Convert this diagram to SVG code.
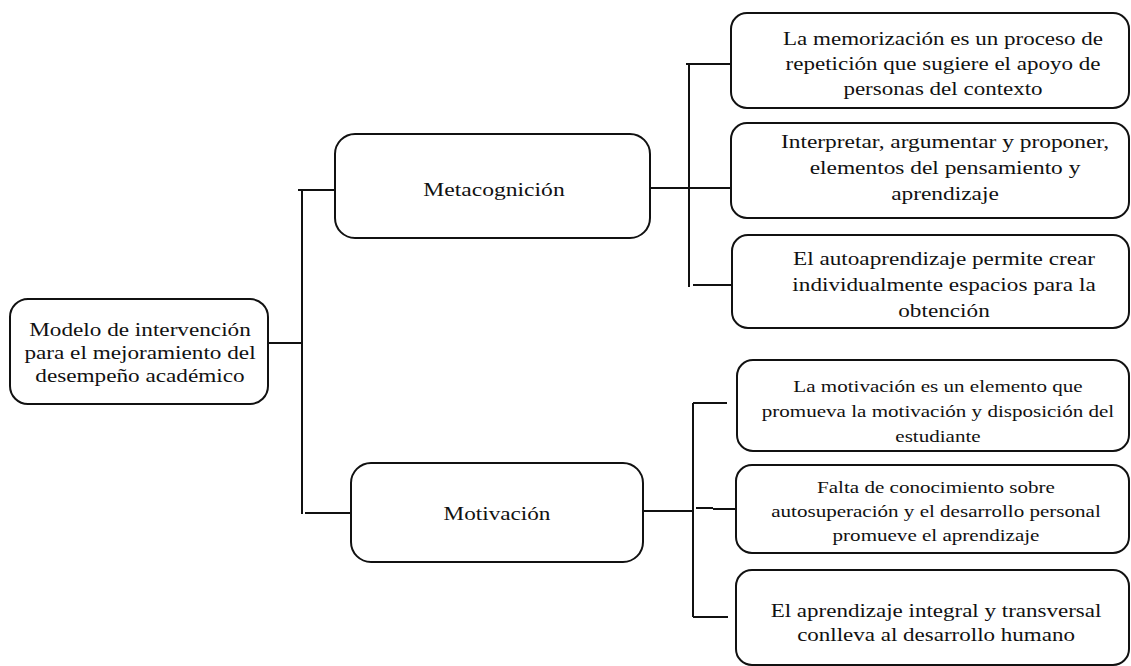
<svg xmlns="http://www.w3.org/2000/svg" width="1131" height="666" viewBox="0 0 1131 666">
<style>
.box{fill:#fff;stroke:#111;stroke-width:2}
.ln{stroke:#111;stroke-width:2;fill:none}
text{font-family:"Liberation Serif","Times New Roman",serif;font-size:19.5px;fill:#111;text-anchor:middle}
.sm{font-size:17.7px}
</style>
<rect width="1131" height="666" fill="#fff"/>
<g id="connectors">
<path class="ln" d="M268 343H302M302 190V514M298 190H335M305 513H351"/>
<path class="ln" d="M649 188H731M689 64V287M686 64H731M693 285H735"/>
<path class="ln" d="M643 511H693M693 403V617M693 403H727M713 509H736M693 617H728"/>
<path class="ln" d="M696 508H713" stroke-width="3"/>
</g>
<g id="root">
<rect class="box" x="10" y="299" width="258" height="105" rx="18"/>
<g transform="translate(140 0) scale(1.19 1)">
<text x="0" y="336">Modelo de intervención</text>
<text x="0" y="359">para el mejoramiento del</text>
<text x="0" y="382">desempeño académico</text>
</g>
</g>
<g id="metacognicion">
<rect class="box" x="335" y="134" width="315" height="104" rx="20"/>
<g transform="translate(494 0) scale(1.21 1)"><text x="0" y="196">Metacognición</text></g>
</g>
<g id="motivacion">
<rect class="box" x="351" y="463" width="292" height="99" rx="20"/>
<g transform="translate(497 0) scale(1.19 1)"><text x="0" y="520">Motivación</text></g>
</g>
<g id="m1">
<rect class="box" x="731" y="13" width="398" height="95" rx="16"/>
<g transform="translate(943 0) scale(1.18 1)">
<text x="0" y="45">La memorización es un proceso de</text>
<text x="0" y="70">repetición que sugiere el apoyo de</text>
<text x="0" y="95">personas del contexto</text>
</g>
</g>
<g id="m2">
<rect class="box" x="731" y="123" width="398" height="95" rx="16"/>
<g transform="translate(945 0) scale(1.2 1)">
<text x="0" y="148">Interpretar, argumentar y proponer,</text>
<text x="0" y="174">elementos del pensamiento y</text>
<text x="0" y="200">aprendizaje</text>
</g>
</g>
<g id="m3">
<rect class="box" x="732" y="235" width="397" height="93" rx="16"/>
<g transform="translate(944 0) scale(1.19 1)">
<text x="0" y="265">El autoaprendizaje permite crear</text>
<text x="0" y="291">individualmente espacios para la</text>
<text x="0" y="317">obtención</text>
</g>
</g>
<g id="v1">
<rect class="box" x="737" y="360" width="392" height="91" rx="16"/>
<g transform="translate(938 0) scale(1.19 1)">
<text class="sm" x="0" y="392">La motivación es un elemento que</text>
<text class="sm" x="0" y="417">promueva la motivación y disposición del</text>
<text class="sm" x="0" y="442">estudiante</text>
</g>
</g>
<g id="v2">
<rect class="box" x="736" y="465" width="393" height="88" rx="16"/>
<g transform="translate(936 0) scale(1.19 1)">
<text class="sm" x="0" y="493">Falta de conocimiento sobre</text>
<text class="sm" x="0" y="517">autosuperación y el desarrollo personal</text>
<text class="sm" x="0" y="541">promueve el aprendizaje</text>
</g>
</g>
<g id="v3">
<rect class="box" x="736" y="570" width="393" height="95" rx="16"/>
<g transform="translate(936 0) scale(1.18 1)">
<text x="0" y="617">El aprendizaje integral y transversal</text>
<text x="0" y="641">conlleva al desarrollo humano</text>
</g>
</g>
</svg>
